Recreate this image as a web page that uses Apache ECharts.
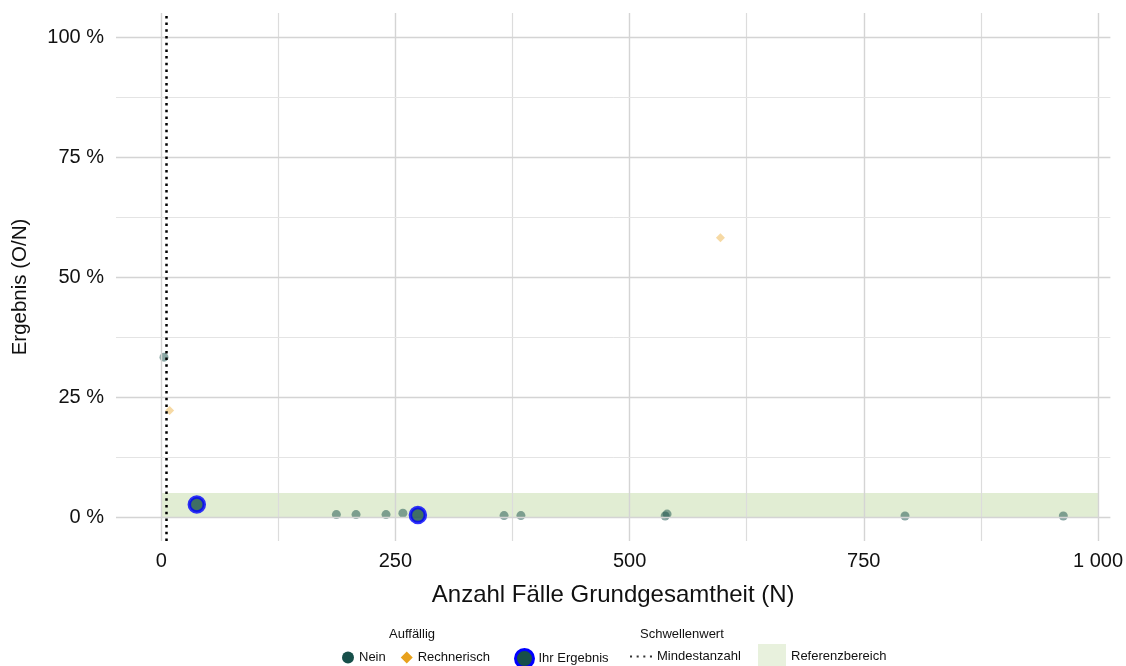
<!DOCTYPE html>
<html>
<head>
<meta charset="utf-8">
<script src="https://cdn.jsdelivr.net/npm/echarts@6/dist/echarts.min.js"></script>
<style>
html, body { margin: 0; padding: 0; background: #fff; }
#chart { width: 1126px; height: 666px; }
</style>
</head>
<body>
<div id="chart"></div>
<script>
// Werte
var neinN   = [3, 187, 208, 240, 258, 366, 384, 538, 540, 794, 963];
var neinPct = [33.3, 0.5, 0.5, 0.5, 0.8, 0.3, 0.3, 0.2, 0.6, 0.2, 0.2];
var rechN   = [9, 597];
var rechPct = [22.2, 58.2];
var ihrN    = [38, 274];
var ihrPct  = [2.6, 0.4];
var mindestanzahl = 5;
var refBereich = [0, 5];      // Prozent
var refN = [0, 1000];

var xTicks = [0, 250, 500, 750, 1000];
var xMinor = [125, 375, 625, 875];
var yTicks = [0, 25, 50, 75, 100];
var yMinor = [12.5, 37.5, 62.5, 87.5];

var pairs = function (xs, ys) {
    var res = [];
    xs.forEach(function (x, i) { res.push([x, ys[i]]); });
    return res;
};

var major = { color: '#d4d4d4', width: 1.4, type: 'solid' };
var minorV = { color: '#dcdcdc', width: 1.2, type: 'solid' };
var minorH = { color: '#e4e4e4', width: 1, type: 'solid' };
var gridLines = [];
xTicks.forEach(function (v) { gridLines.push({ xAxis: v, lineStyle: major }); });
xMinor.forEach(function (v) { gridLines.push({ xAxis: v, lineStyle: minorV }); });
yTicks.forEach(function (v) { gridLines.push({ yAxis: v, lineStyle: major }); });
yMinor.forEach(function (v) { gridLines.push({ yAxis: v, lineStyle: minorH }); });

var fmtN = function (v) {
    return String(v).replace(/\B(?=(\d{3})+(?!\d))/g, ' ');
};

var font = 'Liberation Sans';
var teal = '#174f4a';
var orange = '#e8a11c';
var legendBase = {
    orient: 'horizontal',
    padding: 0,
    itemGap: 15,
    selectedMode: false,
    textStyle: { fontFamily: font, fontSize: 13, color: '#111' }
};

var myChart = echarts.init(document.getElementById('chart'));

var option = {
    animation: false,
    backgroundColor: '#fff',
    grid: { left: 116, right: 15, top: 13, bottom: 125, containLabel: false },
    xAxis: {
        type: 'value',
        min: -48.25,
        max: 1013.25,
        name: 'Anzahl Fälle Grundgesamtheit (N)',
        nameLocation: 'middle',
        nameGap: 42,
        nameTextStyle: { fontFamily: font, fontSize: 24, color: '#111' },
        axisLine: { show: false },
        axisTick: { show: false },
        splitLine: { show: false },
        axisLabel: {
            customValues: xTicks,
            formatter: fmtN,
            margin: 10,
            fontFamily: font, fontSize: 20, color: '#111'
        }
    },
    yAxis: {
        type: 'value',
        min: -5,
        max: 105,
        axisLine: { show: false },
        axisTick: { show: false },
        splitLine: { show: false },
        axisLabel: {
            customValues: yTicks,
            formatter: function (v) { return v + ' %'; },
            margin: 12,
            fontFamily: font, fontSize: 20, color: '#111'
        }
    },
    legend: [
        Object.assign({}, legendBase, {
            left: 342, top: 651, itemWidth: 12, itemHeight: 12,
            data: [
                { name: 'Nein', icon: 'circle', itemStyle: { color: teal, opacity: 1 } },
                { name: 'Rechnerisch', icon: 'diamond', itemStyle: { color: orange, opacity: 1 } }
            ]
        }),
        Object.assign({}, legendBase, {
            left: 514, top: 648, itemWidth: 18, itemHeight: 18,
            data: [{
                name: 'Ihr Ergebnis', icon: 'circle',
                itemStyle: { color: teal, borderColor: '#0000ff', borderWidth: 3, opacity: 1 }
            }]
        }),
        Object.assign({}, legendBase, {
            left: 630, top: 650, itemWidth: 22, itemHeight: 2.5,
            data: [{
                name: 'Mindestanzahl',
                icon: 'path://M0,0h2v2h-2zM6.5,0h2v2h-2zM13,0h2v2h-2zM19.5,0h2v2h-2z',
                itemStyle: { color: '#000' }
            }]
        }),
        Object.assign({}, legendBase, {
            left: 758, top: 644, itemWidth: 28, itemHeight: 24,
            data: [{ name: 'Referenzbereich', icon: 'rect', itemStyle: { color: '#e2edd4' } }]
        })
    ],
    graphic: [
        {
            type: 'text', x: 20, y: 287, rotation: Math.PI / 2,
            style: {
                text: 'Ergebnis (O/N)', fontFamily: font, fontSize: 20.5, fill: '#111',
                align: 'center', verticalAlign: 'middle'
            }
        },
        { type: 'text', left: 389, top: 628, style: { text: 'Auffällig', fontFamily: font, fontSize: 13, fill: '#111' } },
        { type: 'text', left: 640, top: 628, style: { text: 'Schwellenwert', fontFamily: font, fontSize: 13, fill: '#111' } }
    ],
    series: [
        {
            name: 'grid',
            type: 'scatter',
            data: [],
            z: 1,
            silent: true,
            markLine: {
                silent: true,
                symbol: ['none', 'none'],
                label: { show: false },
                emphasis: { disabled: true },
                data: gridLines
            }
        },
        {
            name: 'Referenzbereich',
            type: 'scatter',
            data: [],
            z: 2,
            itemStyle: { color: '#e2edd4' },
            markArea: {
                silent: true,
                itemStyle: { color: 'rgba(157,194,110,0.3)' },
                data: [[{ xAxis: refN[0], yAxis: refBereich[0] }, { xAxis: refN[1], yAxis: refBereich[1] }]]
            }
        },
        {
            name: 'Mindestanzahl',
            type: 'scatter',
            data: [],
            z: 3,
            itemStyle: { color: '#000' },
            markLine: {
                silent: true,
                symbol: ['none', 'none'],
                label: { show: false },
                lineStyle: { color: '#000', width: 2.5, type: [2.5, 4.2] },
                data: [{ xAxis: mindestanzahl }]
            }
        },
        {
            name: 'Nein',
            type: 'scatter',
            z: 4,
            symbol: 'circle',
            symbolSize: 9,
            itemStyle: { color: teal, opacity: 0.5 },
            data: pairs(neinN, neinPct)
        },
        {
            name: 'Rechnerisch',
            type: 'scatter',
            z: 4,
            symbol: 'diamond',
            symbolSize: 9,
            itemStyle: { color: orange, opacity: 0.4 },
            data: pairs(rechN, rechPct)
        },
        {
            name: 'Ihr Ergebnis',
            type: 'scatter',
            z: 5,
            symbol: 'circle',
            symbolSize: 15,
            itemStyle: { color: teal, borderColor: '#0000ff', borderWidth: 3.5 },
            data: pairs(ihrN, ihrPct)
        }
    ]
};
myChart.setOption(option);
</script>
</body>
</html>
